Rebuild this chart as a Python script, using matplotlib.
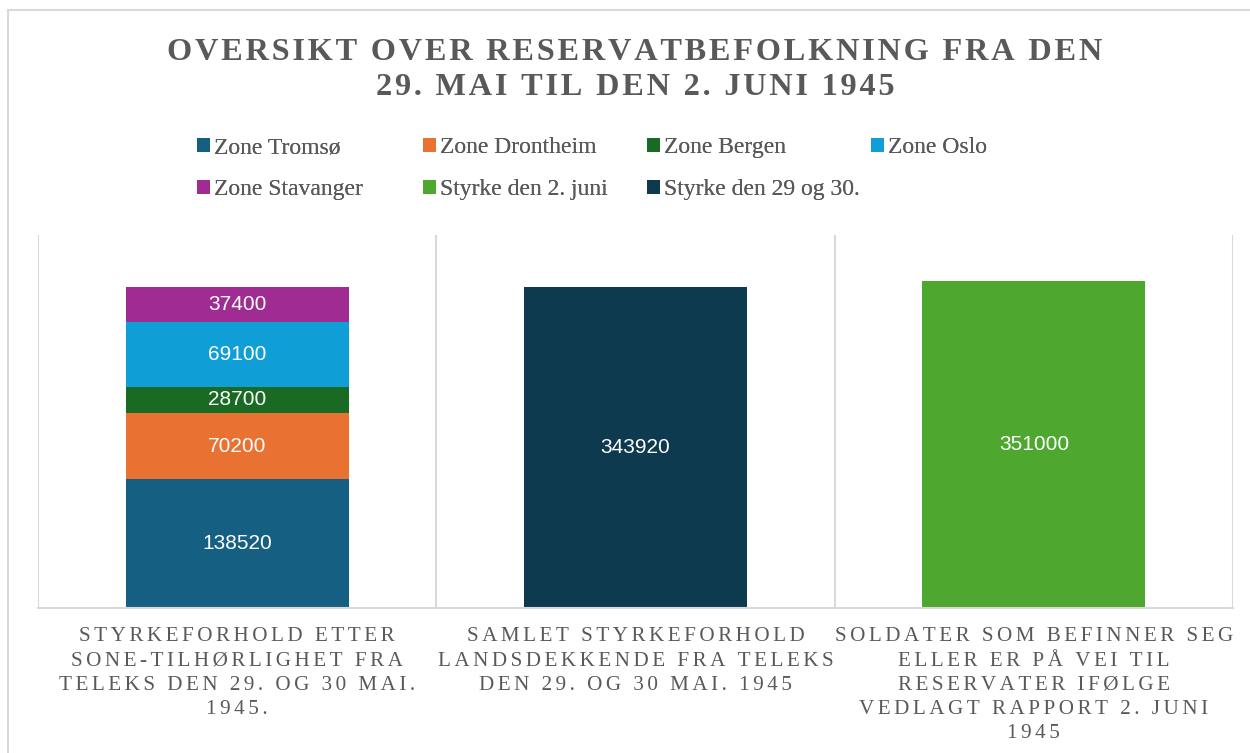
import matplotlib.pyplot as plt
import matplotlib.patches as patches
import numpy as np

# data
categories = [
    "STYRKEFORHOLD ETTER\nSONE-TILHØRLIGHET FRA\nTELEKS DEN 29. OG 30 MAI.\n1945.",
    "SAMLET STYRKEFORHOLD\nLANDSDEKKENDE FRA TELEKS\nDEN 29. OG 30 MAI. 1945",
    "SOLDATER SOM BEFINNER SEG\nELLER ER PÅ VEI TIL\nRESERVATER IFØLGE\nVEDLAGT RAPPORT 2. JUNI\n1945",
]
zone_names = ["Zone Tromsø", "Zone Drontheim", "Zone Bergen", "Zone Oslo", "Zone Stavanger"]
zone_values = [138520, 70200, 28700, 69100, 37400]
juni_name = "Styrke den 2. juni"
juni_value = 351000
mai_name = "Styrke den 29 og 30."
mai_value = 343920

zone_colors = ["#156082", "#E97132", "#196B24", "#0F9ED5", "#A02B93"]
juni_color = "#4EA72E"
mai_color = "#0E3A4F"

def spaced(s, sep="\u200a"):
    # fake letter spacing
    return "\n".join(sep.join(line) for line in s.split("\n"))

fig = plt.figure(figsize=(12.5, 7.53), dpi=100)
fig.patches.append(patches.Rectangle((8/1250, -0.01), 1.0, 1 - 10/753 + 0.01,
                                     transform=fig.transFigure, fill=False,
                                     edgecolor="#d9d9d9", linewidth=1.5))
ax = fig.add_axes([38/1250, 1 - 608/753, (1233 - 38)/1250, (608 - 235)/753])

x = np.arange(3)
w = 0.56
lbl = dict(ha="center", va="center", color="white", fontsize=15,
           family="Liberation Sans", zorder=3)
handles = []
bottom = 0
for name, val, c in zip(zone_names, zone_values, zone_colors):
    b = ax.bar(x[0], val, w, bottom=bottom, color=c, zorder=2)
    ax.text(x[0], bottom + val / 2, str(val), **lbl)
    handles.append(b)
    bottom += val
bm = ax.bar(x[1], mai_value, w, color=mai_color, zorder=2)
ax.text(x[1], mai_value / 2, str(mai_value), **lbl)
bj = ax.bar(x[2], juni_value, w, color=juni_color, zorder=2)
ax.text(x[2], juni_value / 2, str(juni_value), **lbl)
handles += [bj, bm]
labels = zone_names + [juni_name, mai_name]

ax.set_xlim(-0.5, 2.5)
ax.set_ylim(0, 400000)
ax.set_yticks([])
ax.set_xticks(x)
ax.set_xticklabels([spaced(c, "\u200a\u200a") for c in categories],
                   family=["Liberation Serif", "DejaVu Serif"],
                   fontsize=15.2, color="#595959", linespacing=1.37)
ax.tick_params(axis="x", length=0, pad=14)
for xv in [-0.5, 0.5, 1.5, 2.5]:
    ax.axvline(xv, color="#d9d9d9", linewidth=1.5, zorder=1)
for s in ["top", "left", "right"]:
    ax.spines[s].set_visible(False)
ax.spines["bottom"].set_color("#d9d9d9")
ax.spines["bottom"].set_linewidth(1.5)

fig.text(635/1250, 1 - 70/753,
         spaced("OVERSIKT OVER RESERVATBEFOLKNING FRA DEN\n29. MAI TIL DEN 2. JUNI 1945"),
         ha="center", va="center", fontsize=23.3, fontweight="bold", color="#595959",
         family=["Liberation Serif", "DejaVu Serif"], linespacing=1.3)

# legend: 4 columns, row-major order
col_x = [197, 423, 647, 871]
for ci, cx in enumerate(col_x):
    idx = [i for i in range(len(labels)) if i % 4 == ci]
    leg = fig.legend(handles=[handles[i] for i in idx], labels=[labels[i] for i in idx],
                     loc="upper left", bbox_to_anchor=(cx / 1250, 1 - 137 / 753),
                     frameon=False, prop={"family": "Liberation Serif", "size": 17},
                     labelcolor="#595959", handlelength=0.55, handleheight=0.55,
                     handletextpad=0.17, labelspacing=0.91, borderpad=0, borderaxespad=0)
    fig.add_artist(leg)

fig.savefig("out.png", dpi=100)
